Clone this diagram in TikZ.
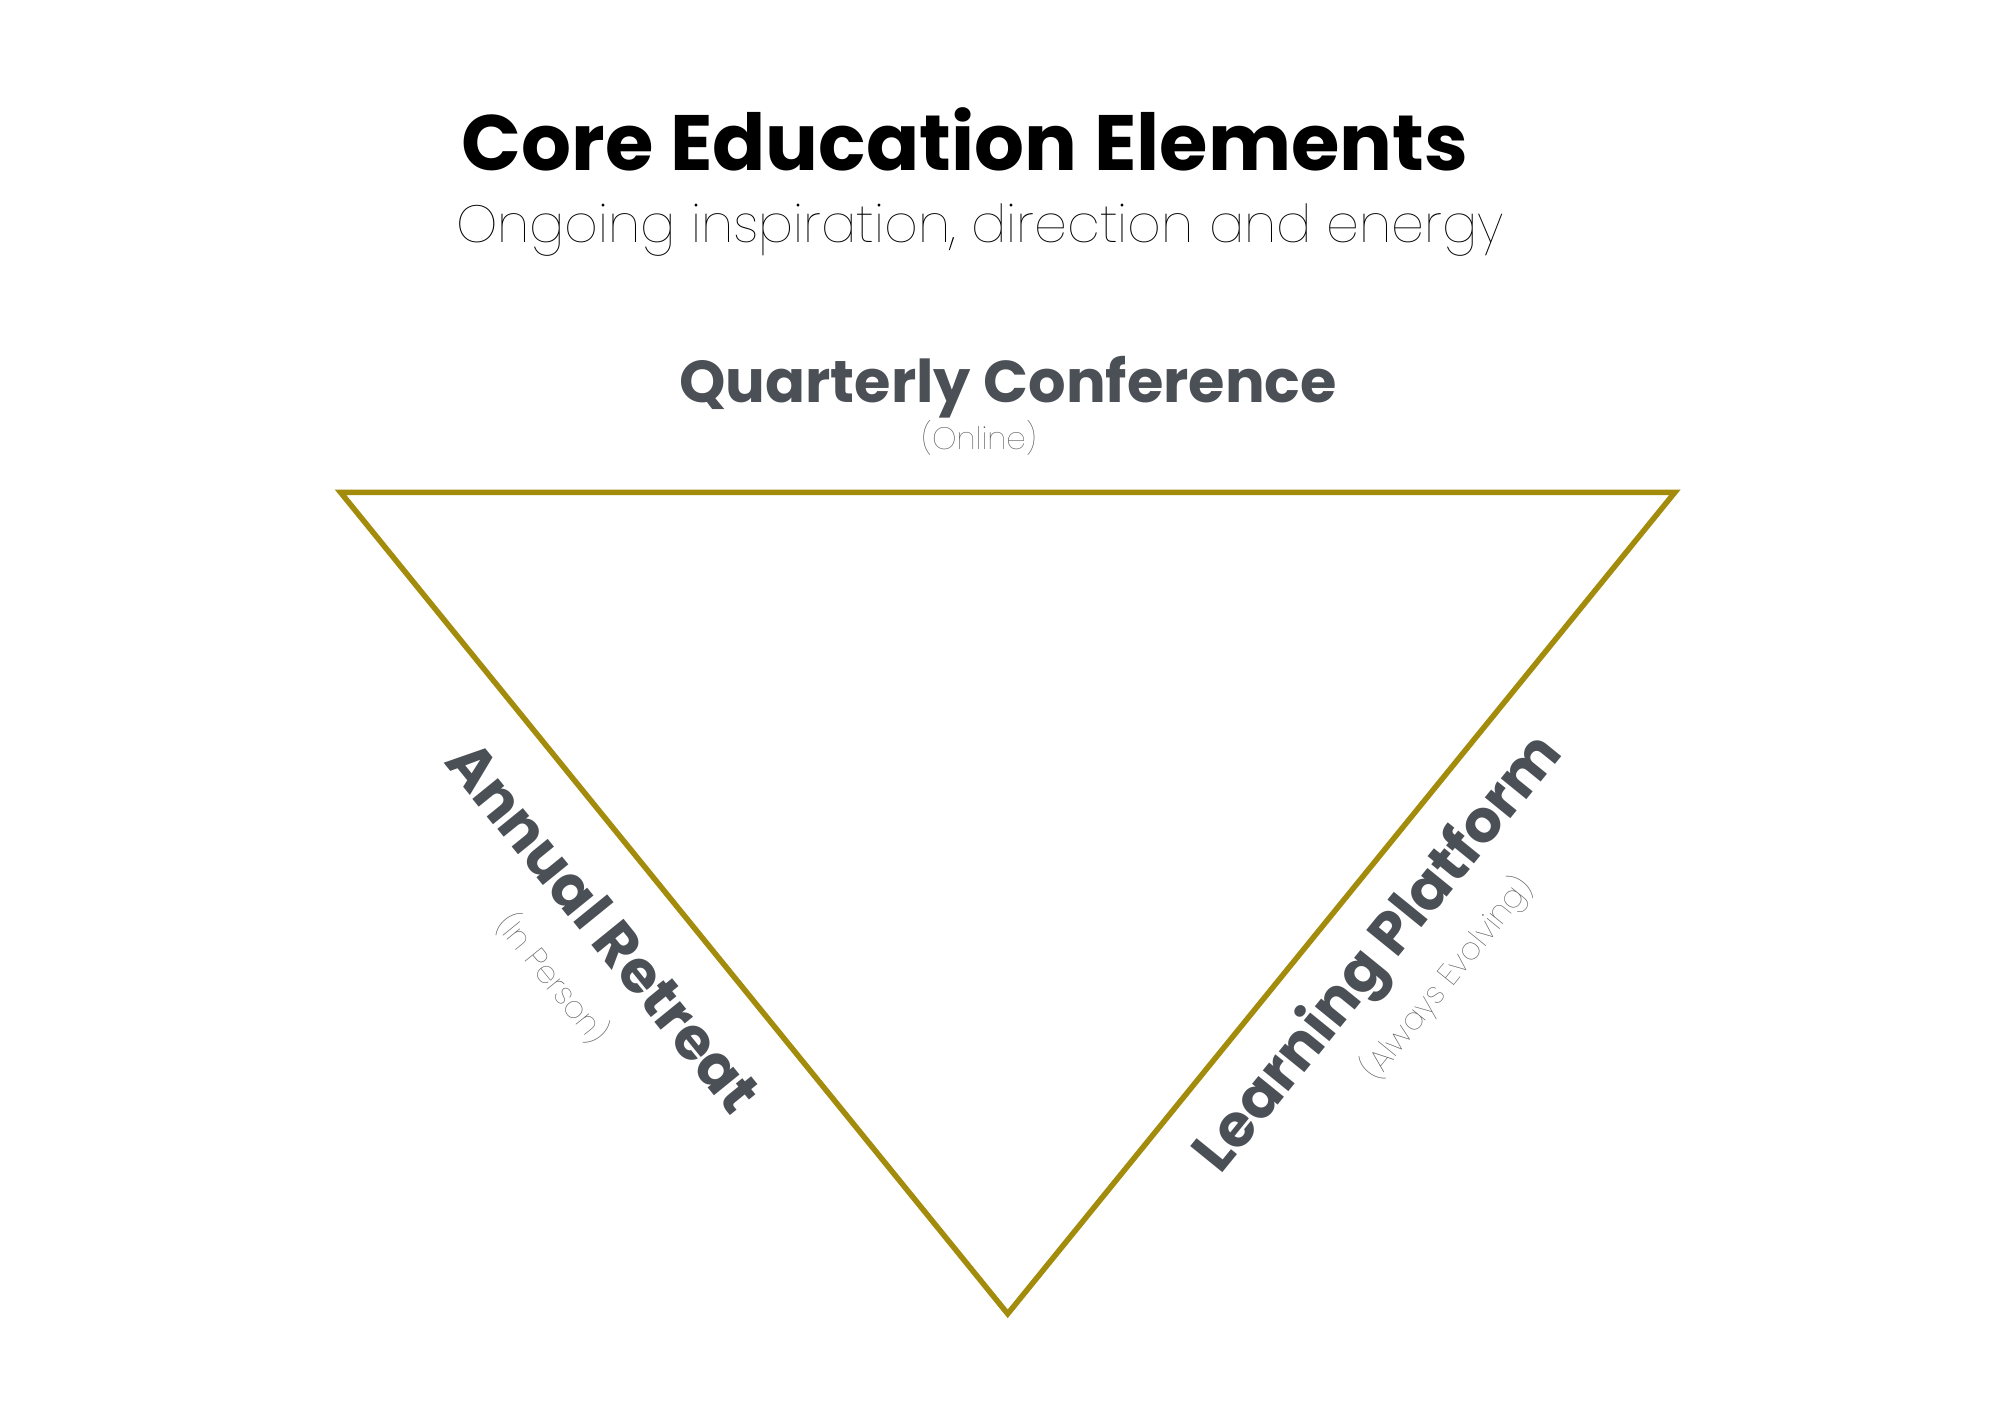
\documentclass[tikz,border=0pt]{standalone}
\usepackage{fontspec}
\newfontfamily\pbold{Poppins Bold}
\newfontfamily\pthin{Poppins Thin}
\definecolor{gold}{HTML}{A38B0C}
\definecolor{labelgray}{HTML}{4B4F56}
\definecolor{subgray}{HTML}{505050}
\tikzset{
  titletext/.style={font=\pbold\fontsize{78.5}{86}\selectfont, text=black, inner sep=0pt},
  subtext/.style={font=\pthin\fontsize{52.4}{60}\selectfont, text=black, inner sep=0pt},
  labeltext/.style={font=\pbold\fontsize{59}{66}\selectfont, text=labelgray, inner sep=0pt},
  smalltext/.style={font=\pthin\fontsize{31}{36}\selectfont, text=subgray, inner sep=0pt},
  edge/.style={draw=gold, line width=5.5pt, line join=miter}
}
\begin{document}
\begin{tikzpicture}[x=1pt,y=-1pt]
\useasboundingbox (0,0) rectangle (2000,1414);
\fill[white] (0,0) rectangle (2000,1414);
\coordinate (tl) at (340.6,492.4);
\coordinate (tr) at (1674.8,492.4);
\coordinate (bt) at (1007.7,1313.8);
\draw[edge] (tl) -- (tr) -- (bt) -- cycle;
\node[titletext, anchor=base] (title) at (965,170) {Core Education Elements};
\node[subtext, anchor=base] (sub) at (980,242) {Ongoing inspiration, direction and energy};
\node[labeltext, anchor=base] (qc) at (1008,402) {Quarterly Conference};
\node[smalltext, anchor=base] (online) at (979,449) {(Online)};
\node[labeltext, rotate=-50.9] (ar) at (604,926) {Annual Retreat};
\node[smalltext, rotate=-50.9] (ip) at (553,978) {(In Person)};
\node[labeltext, rotate=50.9] (lp) at (1380,955) {Learning Platform};
\node[smalltext, rotate=50.9] (ae) at (1447,978) {(Always Evolving)};
\end{tikzpicture}
\end{document}
